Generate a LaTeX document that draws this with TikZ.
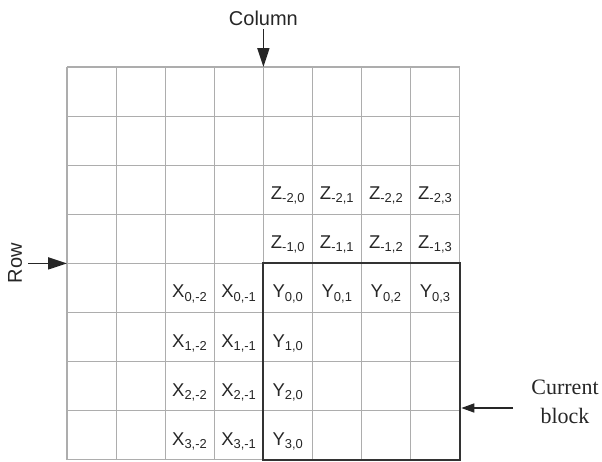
\documentclass[tikz,border=0pt]{standalone}
\usepackage{fontspec}
\setmainfont{Liberation Sans}
\newfontfamily\blockfont{Liberation Serif}
\usetikzlibrary{arrows.meta}
\begin{document}
\begin{tikzpicture}[x=1pt,y=-1pt,
  gridline/.style={draw=black!32, line width=1.2pt},
  blockline/.style={draw=black!80, line width=2pt},
  bigpointer/.style={-{Triangle[length=19pt,width=12pt]}, line width=1.8pt, draw=black!85},
  smallpointer/.style={-{Triangle[length=13pt,width=9pt]}, line width=1.6pt, draw=black!85},
  celltext/.style={text=black!85, font=\fontsize{18.5}{22}\selectfont, inner sep=0pt, anchor=base},
  axislabel/.style={text=black!85, font=\fontsize{20}{24}\selectfont, inner sep=0pt},
  blocklabel/.style={text=black!85, font=\blockfont\fontsize{22}{29}\selectfont, inner sep=0pt, align=center}]
\useasboundingbox (0,0) rectangle (602,461);

% cell size and grid origin
\def\cs{49.1}
\def\ox{67}
\def\oy{67}

% 8 x 8 grid
\foreach \i in {0,...,8} {
  \draw[gridline] (\ox+\i*\cs, \oy) -- (\ox+\i*\cs, \oy+8*\cs);
  \draw[gridline] (\ox, \oy+\i*\cs) -- (\ox+8*\cs, \oy+\i*\cs);
}

% current block outline
\draw[blockline] (\ox+4*\cs, \oy+4*\cs) rectangle (\ox+8*\cs, \oy+8*\cs);

% Z cells: two rows above the block
\foreach \r/\rl in {2/-2, 3/-1}
  \foreach \c/\cl in {4/0, 5/1, 6/2, 7/3}
    \node[celltext] (z\r\c) at (\ox+\c*\cs+0.5*\cs, \oy+\r*\cs+0.5*\cs+10) {Z\textsubscript{\rl,\cl}};

% Y cells: first row and first column of the block
\foreach \c/\cl in {4/0, 5/1, 6/2, 7/3}
  \node[celltext] (y4\c) at (\ox+\c*\cs+0.5*\cs, \oy+4.5*\cs+10) {Y\textsubscript{0,\cl}};
\foreach \r/\rl in {5/1, 6/2, 7/3}
  \node[celltext] (y\r4) at (\ox+4.5*\cs, \oy+\r*\cs+0.5*\cs+10) {Y\textsubscript{\rl,0}};

% X cells: two columns left of the block
\foreach \r/\rl in {4/0, 5/1, 6/2, 7/3}
  \foreach \c/\cl in {2/-2, 3/-1}
    \node[celltext] (x\r\c) at (\ox+\c*\cs+0.5*\cs, \oy+\r*\cs+0.5*\cs+10) {X\textsubscript{\rl,\cl}};

% column pointer
\node[axislabel, anchor=base] (collabel) at (\ox+4*\cs, 25) {Column};
\coordinate (colstart) at (\ox+4*\cs, 29);
\coordinate (coltip) at (\ox+4*\cs, \oy);
\draw[bigpointer] (colstart) -- (coltip);

% row pointer
\node[axislabel, rotate=90] (rowlabel) at (15, \oy+4*\cs) {Row};
\coordinate (rowstart) at (28, \oy+4*\cs);
\coordinate (rowtip) at (\ox, \oy+4*\cs);
\draw[bigpointer] (rowstart) -- (rowtip);

% current block pointer
\node[blocklabel, anchor=north] (blocklabel) at (565, 380) {Current\\block};
\coordinate (blockstart) at (513, 408);
\coordinate (blocktip) at (\ox+8*\cs+1.5, 408);
\draw[smallpointer] (blockstart) -- (blocktip);
\end{tikzpicture}
\end{document}
